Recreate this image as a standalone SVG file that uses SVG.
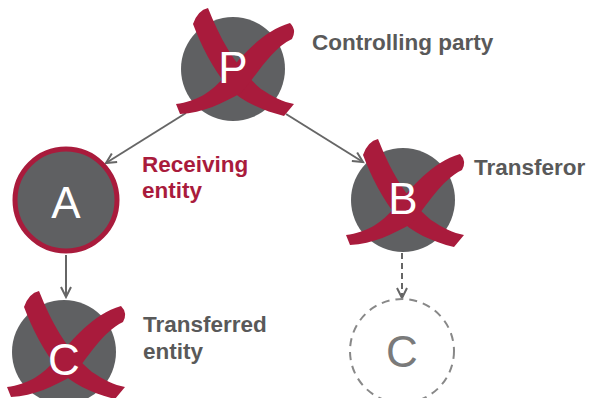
<svg xmlns="http://www.w3.org/2000/svg" width="590" height="398" viewBox="0 0 590 398">
<style>
.node{fill:#5f6062}
.letter{font-family:"Liberation Sans",Arial,sans-serif;font-size:44px;fill:#ffffff;text-anchor:middle}
.lbl{font-family:"Liberation Sans",Arial,sans-serif;font-size:22.5px;font-weight:bold;fill:#595959}
.red{fill:#a91b3c}
.conn{stroke:#666;stroke-width:2;fill:none}
</style>
<defs>
<marker id="arr" markerUnits="userSpaceOnUse" markerWidth="14" markerHeight="14" refX="11" refY="6" orient="auto" viewBox="0 0 14 12">
<path d="M1,1 L11,6 L1,11" fill="none" stroke="#666" stroke-width="2"/>
</marker>
<g id="cross">
<path class="red" d="M -40,-45 Q -35,-59 -25,-61 C -13,-31 2,-2 28,20 C 40,28 50,33 61,35 L 51,47 C 30,42 8,32 -5,18 C -20,0 -32,-24 -40,-45 Z"/>
<path class="red" d="M 57,-46 C 29,-38 8,-12 -7,6 C -22,24 -36,32 -57,35 L -53,45 C -30,44 -10,34 8,24 C 24,6 38,-20 59,-30 Q 64,-39 57,-46 Z"/>
</g>
</defs>
<g id="connectors">
<line class="conn" x1="186" y1="113" x2="106" y2="163" marker-end="url(#arr)"/>
<line class="conn" x1="286" y1="114" x2="363" y2="162" marker-end="url(#arr)"/>
<line class="conn" x1="66" y1="255" x2="66" y2="297" marker-end="url(#arr)"/>
<line class="conn" x1="402" y1="253" x2="402" y2="298" stroke-dasharray="6 4" marker-end="url(#arr)"/>
</g>
<g id="nodeP">
<circle class="node" cx="233" cy="69" r="52"/>
<use href="#cross" transform="translate(233,69)"/>
<text class="letter" x="233" y="83">P</text>
<text class="lbl" x="312" y="50">Controlling party</text>
</g>
<g id="nodeA">
<circle class="node" cx="66" cy="200" r="51" stroke="#a91b3c" stroke-width="5"/>
<text class="letter" x="66" y="218">A</text>
<text class="lbl" x="142" y="172" style="fill:#a91b3c">Receiving</text>
<text class="lbl" x="142" y="198" style="fill:#a91b3c">entity</text>
</g>
<g id="nodeB">
<circle class="node" cx="403" cy="200" r="52"/>
<use href="#cross" transform="translate(403,200)"/>
<text class="letter" x="403" y="214">B</text>
<text class="lbl" x="474" y="175">Transferor</text>
</g>
<g id="nodeC1">
<circle class="node" cx="64" cy="352" r="52"/>
<use href="#cross" transform="translate(64,352)"/>
<text class="letter" x="64" y="375">C</text>
<text class="lbl" x="143" y="332">Transferred</text>
<text class="lbl" x="143" y="359">entity</text>
</g>
<g id="nodeC2">
<circle cx="402" cy="351" r="52" fill="none" stroke="#888" stroke-width="2" stroke-dasharray="8 6"/>
<text class="letter" x="402" y="367" style="fill:#7a7a7a">C</text>
</g>
</svg>
